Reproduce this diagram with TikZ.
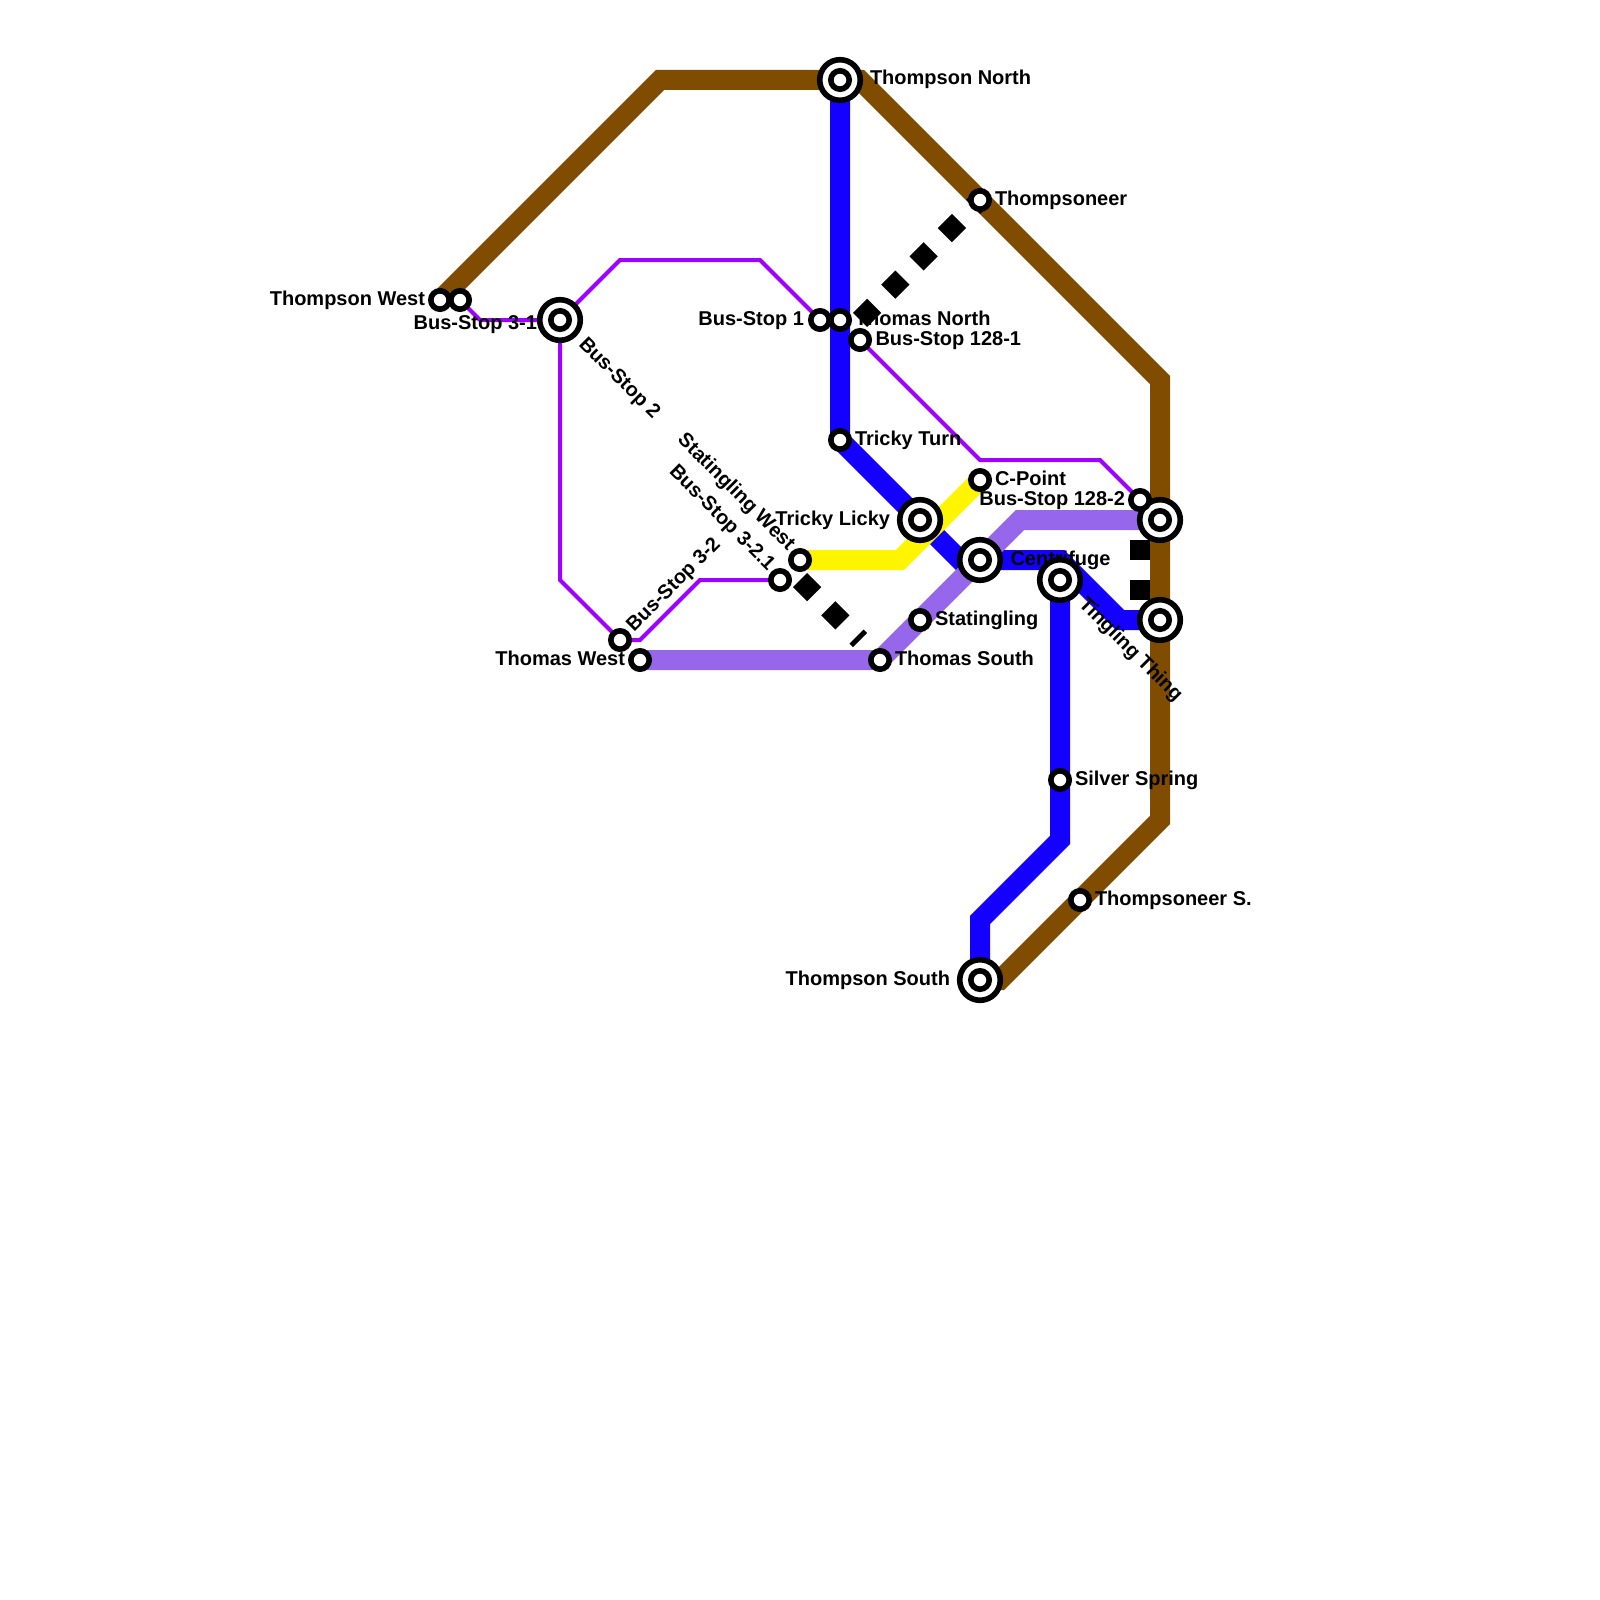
\documentclass[tikz,border=0pt]{standalone}
\usepackage{fontspec}
\setmainfont{Liberation Sans}
\pgfdeclarelayer{lines}
\pgfdeclarelayer{labels}
\pgfsetlayers{lines,labels,main}
\definecolor{cbrown}{RGB}{128,77,0}
\definecolor{cblue}{RGB}{20,0,255}
\definecolor{cpurple}{RGB}{160,0,255}
\definecolor{clilac}{RGB}{150,103,235}
\definecolor{cyellow}{RGB}{255,245,0}
\tikzset{
  stn/.style={circle,draw=black,fill=white,line width=2.8pt,minimum size=9.2pt,inner sep=0pt,outer sep=0pt},
  xch/.style={circle,draw=black,fill=white,line width=2.8pt,minimum size=20.3pt,inner sep=0pt,outer sep=0pt},
  thick line/.style={line width=10pt,line join=miter,line cap=butt},
  thin line/.style={line width=2pt,line join=miter,line cap=butt,draw=cpurple},
  blocks/.style={line width=10pt,draw=black,dash pattern=on 10pt off 10pt},
  lab/.style={inner sep=0pt,outer sep=0pt,font=\fontsize{10pt}{12pt}\selectfont\bfseries},
  labr/.style={lab,anchor=base west},
  labl/.style={lab,anchor=base east},
}
\begin{document}
\begin{tikzpicture}[x=0.5pt,y=-0.5pt]
\useasboundingbox (0,0) rectangle (1600,1600);
% stations
\node[xch] (tn) at (840,80) {}; \node[stn] (tni) at (840,80) {};
\node[xch] (bs2) at (560,320) {}; \node[stn] (bs2i) at (560,320) {};
\node[xch] (tl) at (920,520) {}; \node[stn] (tli) at (920,520) {};
\node[xch] (cf) at (980,560) {}; \node[stn] (cfi) at (980,560) {};
\node[xch] (tt) at (1060,580) {}; \node[stn] (tti) at (1060,580) {};
\node[xch] (ea) at (1160,520) {}; \node[stn] (eai) at (1160,520) {};
\node[xch] (eb) at (1160,620) {}; \node[stn] (ebi) at (1160,620) {};
\node[xch] (ts) at (980,980) {}; \node[stn] (tsi) at (980,980) {};
\node[stn] (tw) at (440,300) {};
\node[stn] (bs31) at (460,300) {};
\node[stn] (bs1) at (820,320) {};
\node[stn] (thn) at (840,320) {};
\node[stn] (bs1281) at (860,340) {};
\node[stn] (tp) at (980,200) {};
\node[stn] (turn) at (840,440) {};
\node[stn] (cp) at (980,480) {};
\node[stn] (bs1282) at (1140,500) {};
\node[stn] (sw) at (800,560) {};
\node[stn] (bs321) at (780,580) {};
\node[stn] (bs32) at (620,640) {};
\node[stn] (thw) at (640,660) {};
\node[stn] (ths) at (880,660) {};
\node[stn] (st) at (920,620) {};
\node[stn] (ss) at (1060,780) {};
\node[stn] (tps) at (1080,900) {};
% free ends of the block connectors
\coordinate (da) at (860,320);
\coordinate (db) at (800,580);
\coordinate (dbe) at (860,640);
\coordinate (dc) at (1140,540);
\coordinate (dce) at (1140,600);
\begin{pgfonlayer}{lines}
\draw[thick line,cbrown] (tw.center) -- (660,80) -- (tn.center) -- (860,80) -- (1160,380) -- (1160,820) -- (1000,980) -- (ts.center);
\draw[thick line,cblue] (tn.center) -- (turn.center) -- (960,560) -- (cf.center) -- (1060,560) -- (1120,620) -- (eb.center);
\draw[thick line,cblue] (tt.center) -- (ss.center) -- (1060,840) -- (980,920) -- (ts.center);
\draw[thin line] (bs31.center) -- (480,320) -- (bs2.center) -- (620,260) -- (760,260) -- (bs1.center);
\draw[thin line] (bs2.center) -- (560,580) -- (bs32.center) -- (640,640) -- (700,580) -- (bs321.center);
\draw[thin line] (bs1281.center) -- (980,460) -- (1100,460) -- (bs1282.center);
\draw[thick line,clilac] (thw.center) -- (ths.center) -- (1020,520) -- (ea.center);
\draw[thick line,cyellow] (sw.center) -- (900,560) -- (cp.center);
\draw[blocks] (da) -- (tp.center);
\draw[blocks] (db) -- (dbe);
\draw[blocks] (dc) -- (dce);
\end{pgfonlayer}
\begin{pgfonlayer}{labels}
\node[labr] (l1) at (870,85) {Thompson North};
\node[labr] (l2) at (995,205) {Thompsoneer};
\node[labl] (l3) at (425,305) {Thompson West};
\node[labl] (l4) at (537,329.5) {Bus-Stop 3-1};
\node[labl] (l5) at (804,325) {Bus-Stop 1};
\node[labr] (l6) at (855,325) {Thomas North};
\node[labr] (l7) at (875.5,345) {Bus-Stop 128-1};
\node[labr] (l8) at (855,445) {Tricky Turn};
\node[labr] (l9) at (995,485) {C-Point};
\node[labl] (l10) at (1125,505) {Bus-Stop 128-2};
\node[labl] (l11) at (890,525) {Tricky Licky};
\node[labr] (l12) at (1010.5,565) {Centrifuge};
\node[labr] (l13) at (935,625) {Statingling};
\node[labr] (l14) at (895,665) {Thomas South};
\node[labl] (l15) at (625,665) {Thomas West};
\node[labr] (l16) at (1075,785) {Silver Spring};
\node[labr] (l17) at (1095,905) {Thompsoneer S.};
\node[labl] (l18) at (950,985) {Thompson South};
\node[labr,rotate=-45] (l19) at (578,345) {Bus-Stop 2};
\node[labr,rotate=-45] (l20) at (1078,605) {Tingling Thing};
\node[labr,rotate=45] (l21) at (634,632.5) {Bus-Stop 3-2};
\node[labl,rotate=-45] (l22) at (787.5,551.5) {Statingling West};
\node[labl,rotate=-45] (l23) at (767.5,571.5) {Bus-Stop 3-2.1};
\end{pgfonlayer}
\end{tikzpicture}
\end{document}
